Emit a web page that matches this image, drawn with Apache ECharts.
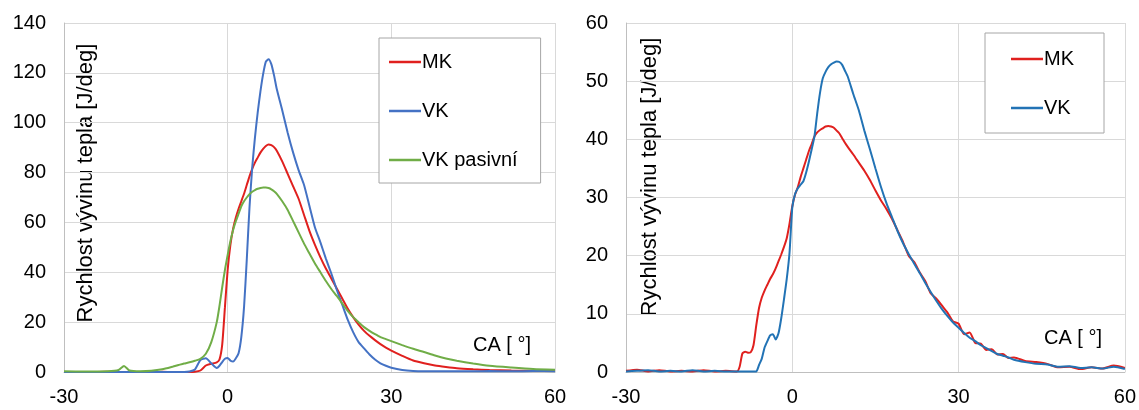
<!DOCTYPE html>
<html>
<head>
<meta charset="utf-8">
<title>Rychlost vývinu tepla</title>
<script src="https://cdn.jsdelivr.net/npm/echarts@6/dist/echarts.min.js"></script>
<style>
  html, body { margin: 0; padding: 0; background: #fff; }
  #left  { position: absolute; left: 0;   top: 0; width: 570px; height: 410px; }
  #right { position: absolute; left: 570px; top: 0; width: 569px; height: 410px; }
</style>
</head>
<body>
<div id="left"></div>
<div id="right"></div>
<script>
// levy graf: MK, VK, VK pasivni
var caLeft = [-30,-26,-22,-20,-19,-18,-16,-14,-12,-10,
  -9,-8,-7,-6,-5,-4,-3,
  -2,-1.5,-1,-0.5,0,0.5,1,1.5,2,2.5,3,3.5,4,4.5,5,5.5,6,6.5,7,7.5,8,8.5,9,
  10,11,12,13,14,15,16,17,18,19,20,21,22,23,24,25,26,27,28,29,30,
  32,34,36,38,40,42,45,48,52,56,60];
var mkLeft = [0,0,0.1,0,0,0.1,0,0,0.1,0,
  0,0,0,0.1,0.6,2.6,3.3,
  3.9,5,11,26,41,51,57.5,62,65.5,68.5,71.5,75,78.5,81.5,84,86,88,89.5,90.7,91.3,91,90.2,88.8,
  84.5,79.5,74.5,69.5,63,56.5,51,46,41.5,37.5,33.5,29.5,25.5,22,19,16.5,14.5,12.8,11.2,9.8,8.6,
  6.5,4.6,3.5,2.6,2,1.5,1.1,0.8,0.6,0.5,0.5];
var vkLeft = [0,0,0,0,0,0,0,0,0,0,
  0,0,0.2,1,4.8,5.5,3.5,
  1.6,2.5,4,5.3,5.6,4.6,4.2,5.5,7.5,14,26,45,66,82,94,104,112.5,119.5,124.5,125.5,123.5,119,113.5,
  105,96,88,81,75,66.5,58,52,45.5,39.5,33,27,21,16,12,9.5,7,5,3.5,2.5,1.7,
  0.8,0.4,0.3,0.3,0.3,0.3,0.3,0.4,0.3,0.4,0.3];
var vkPasivniLeft = [0.3,0.2,0.3,0.8,2.4,0.6,0.3,0.5,1.1,2.2,
  2.8,3.4,3.9,4.5,5.3,7.3,12,
  20,26.5,34,41,47,52.5,57,60.5,63.5,66.5,68.5,70,71.3,72.3,73,73.5,73.8,74,74,73.8,73.3,72.5,71.5,
  68.5,65,60.5,56,51.5,47.5,43.5,40,36.5,33.3,30.5,27.5,24.5,22,20,18,16.5,15.2,14,13.2,12.4,
  10.8,9.3,8,6.6,5.4,4.5,3.4,2.5,1.8,1.2,0.9];

// pravy graf: MK, VK
var caRight = [-30,-28,-26,-24,-22,-20,-18,-16,-14,-12,-10,
  -9.5,-9,-8.5,-8,-7.5,-7,-6.5,-6,-5.5,-5,-4.5,-4,-3.5,-3,-2.5,-2,-1.5,-1,-0.5,0,
  0.5,1,1.5,2,2.5,3,3.5,4,4.5,5,5.5,6,6.5,7,7.5,8,8.5,9,9.5,10,
  11,12,13,14,15,16,17,18,19,20,21,22,23,24,25,26,27,28,29,30,
  31,32,33,34,35,36,37,38,39,40,
  42,44,46,48,50,52,54,56,58,60];
var mkRight = [0.2,0.4,0.1,0.3,0.1,0.2,0.1,0.3,0.1,0.2,0.1,
  0.9,3.2,3.5,3.3,3.4,4.6,8,11,12.8,14,15,16,16.8,17.8,19,20.2,21.5,23,25.5,28.5,
  30.5,31.8,33.5,35,36.5,38,39.2,40.5,41.2,41.6,41.9,42.2,42.3,42.2,42,41.5,41,40.2,39.4,38.7,
  37.4,36,34.6,33,31.2,29.5,28,26.3,24.3,22.3,20,18.9,17.1,15.6,13.5,12.6,11.4,10.2,8.7,8.3,
  6.5,6.8,5.0,4.9,3.8,3.9,3.0,3.1,2.4,2.5,
  1.9,1.7,1.4,0.8,0.9,0.5,0.8,0.6,1.1,0.7];
var vkRight = [0.1,0.2,0.3,0.1,0.2,0.1,0.3,0.1,0.2,0.1,0.1,
  0.1,0.1,0.1,0.1,0.1,0.1,0.1,1.2,2.3,4.2,5.3,6.3,6.5,5.6,6.6,9.2,12.5,16,20.5,28.3,
  30.6,31.6,32.2,32.8,34.3,36.2,38.3,40.5,44.5,48,50.5,51.6,52.4,52.9,53.2,53.4,53.3,52.8,51.8,50.8,
  47.8,45,41.5,38.3,35,31.8,29,26.6,24.2,22.1,20.3,18.6,17,15.3,13.7,12.2,10.8,9.6,8.5,7.6,
  6.7,5.9,5.3,4.6,4.1,3.6,3.1,2.8,2.5,2.1,
  1.7,1.4,1.3,0.9,1.0,0.7,0.8,0.6,0.9,0.5];

var FONT = '"Liberation Sans", Arial, sans-serif';
var RED = '#e0201e';
var BLUE_L = '#4472c4';
var GREEN = '#70ad47';
var BLUE_R = '#2273b5';
var yName = 'Rychlost vývinu tepla [J/deg]';

function zip(xs, ys) {
  var out = [];
  for (var i = 0; i < xs.length; i++) out.push([xs[i], ys[i]]);
  return out;
}

function lineSeries(name, xs, ys, color) {
  return {
    name: name, type: 'line', data: zip(xs, ys),
    showSymbol: false, symbol: 'none', smooth: 0.2,
    lineStyle: { width: 2, color: color },
    itemStyle: { color: color }
  };
}

function baseOption(yMax, yStep, grid) {
  return {
    animation: false,
    textStyle: { fontFamily: FONT },
    grid: grid,
    xAxis: {
      type: 'value', min: -30, max: 60, interval: 30,
      axisLine: { lineStyle: { color: '#bfbfbf' } },
      axisTick: { show: false },
      axisLabel: { color: '#000', fontSize: 20, margin: 15 },
      splitLine: { lineStyle: { color: '#d9d9d9' } }
    },
    yAxis: {
      type: 'value', min: 0, max: yMax, interval: yStep,
      axisLine: { show: true, onZero: false, lineStyle: { color: '#bfbfbf' } },
      axisTick: { show: false },
      axisLabel: { color: '#000', fontSize: 20, margin: 18 },
      splitLine: { lineStyle: { color: '#d9d9d9' } }
    }
  };
}

function legendBox(left, top, padding, names) {
  return {
    orient: 'vertical', left: left, top: top,
    icon: 'rect', itemWidth: 32, itemHeight: 2.5, itemGap: 29,
    padding: padding, borderColor: '#a6a6a6', borderWidth: 1,
    backgroundColor: '#fff',
    textStyle: { fontSize: 20, color: '#000', lineHeight: 20, fontFamily: FONT,
                 padding: [0, 0, 0, -4] },
    data: names
  };
}

function texts(nameX, nameY, caX, caY) {
  return [
    { type: 'text', x: nameX, y: nameY, rotation: Math.PI / 2,
      style: { text: yName, fontSize: 22, fontFamily: FONT, fill: '#000',
               textAlign: 'center', textVerticalAlign: 'middle' } },
    { type: 'text', x: caX, y: caY,
      style: { text: 'CA [ °]', fontSize: 20, fontFamily: FONT, fill: '#000',
               textAlign: 'left', textVerticalAlign: 'middle' } }
  ];
}

// levy
var leftChart = echarts.init(document.getElementById('left'));
var optL = baseOption(140, 20, { left: 64, top: 23, right: 15, bottom: 38 });
optL.legend = legendBox(379, 38, [14, 23, 13, 10], ['MK', 'VK', 'VK pasivní']);
optL.graphic = texts(86, 183, 473, 345);
optL.series = [
  lineSeries('MK', caLeft, mkLeft, RED),
  lineSeries('VK', caLeft, vkLeft, BLUE_L),
  lineSeries('VK pasivní', caLeft, vkPasivniLeft, GREEN)
];
leftChart.setOption(optL);

// pravy
var rightChart = echarts.init(document.getElementById('right'));
var optR = baseOption(60, 10, { left: 56, top: 23, right: 14, bottom: 38 });
optR.legend = legendBox(415, 33, [16, 30, 15, 26], ['MK', 'VK']);
optR.graphic = texts(80, 177, 474, 338);
optR.series = [
  lineSeries('MK', caRight, mkRight, RED),
  lineSeries('VK', caRight, vkRight, BLUE_R)
];
rightChart.setOption(optR);
</script>
</body>
</html>
